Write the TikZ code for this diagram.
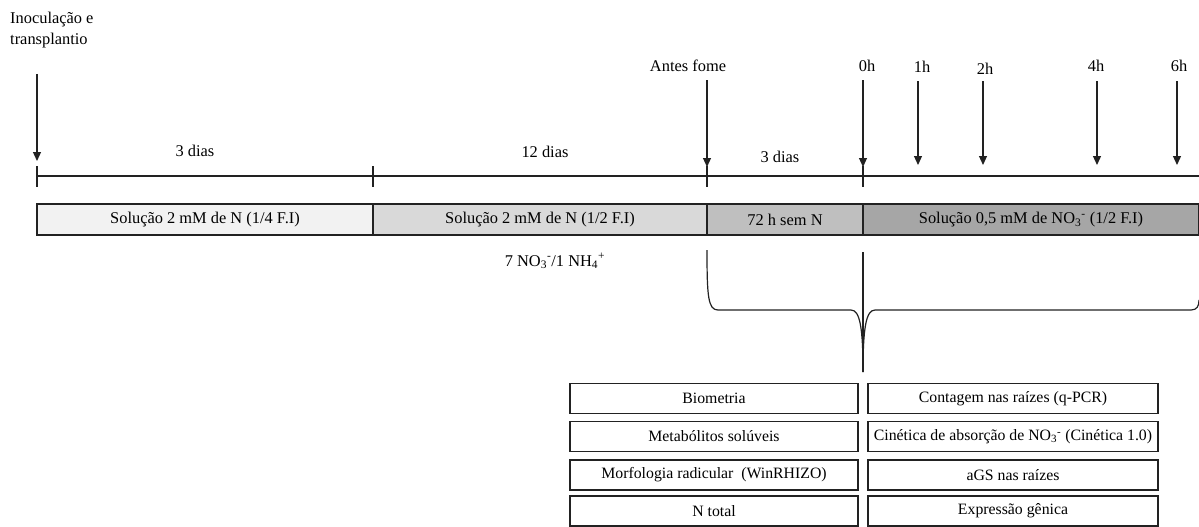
\documentclass[tikz,border=0pt]{standalone}
\usepackage{fontspec}
\setmainfont{Liberation Serif}
\usetikzlibrary{arrows.meta}
\definecolor{gA}{HTML}{F2F2F2}
\definecolor{gB}{HTML}{D9D9D9}
\definecolor{gC}{HTML}{BFBFBF}
\definecolor{gD}{HTML}{A6A6A6}
\definecolor{ink}{HTML}{222222}
\tikzset{
  lbl/.style={inner sep=0pt, font=\fontsize{16.4}{20}\selectfont},
  barbox/.style={draw=ink, line width=1.4pt, inner sep=0pt, minimum height=31pt, font=\fontsize{16.4}{20}\selectfont},
  resbox/.style={draw=ink, line width=1.4pt, inner sep=0pt, minimum height=30pt, font=\fontsize{15.8}{18}\selectfont},
  arr/.style={ink, line width=1.2pt, -{Triangle[width=8pt,length=9pt]}},
  tl/.style={ink, line width=1.2pt},
}
\begin{document}
\begin{tikzpicture}[x=1pt,y=-1pt]
\useasboundingbox (0,0) rectangle (1199,527);
% top-left label
\node[lbl, anchor=west, align=left] (inoc) at (10,30) {Inoculação e\\[1pt]transplantio};
% time labels
\node[lbl] (tAF) at (688,66) {Antes fome};
\node[lbl] (t0) at (867,66) {0h};
\node[lbl] (t1) at (922,67) {1h};
\node[lbl] (t2) at (985,69) {2h};
\node[lbl] (t4) at (1096,66) {4h};
\node[lbl] (t6) at (1179,66) {6h};
% durations
\node[lbl] (d1) at (195,151) {3 dias};
\node[lbl] (d2) at (545,152) {12 dias};
\node[lbl] (d3) at (780,157) {3 dias};
% arrows
\coordinate (a0s) at (37,74);  \coordinate (a0e) at (37,161);
\coordinate (aAs) at (707,80); \coordinate (aAe) at (707,167);
\coordinate (a0hs) at (863,80); \coordinate (a0he) at (863,167);
\coordinate (a1s) at (918,81); \coordinate (a1e) at (918,165);
\coordinate (a2s) at (983,81); \coordinate (a2e) at (983,165);
\coordinate (a4s) at (1097,81); \coordinate (a4e) at (1097,165);
\coordinate (a6s) at (1177,81); \coordinate (a6e) at (1177,165);
\draw[arr] (a0s) -- (a0e);
\draw[arr] (aAs) -- (aAe);
\draw[arr] (a0hs) -- (a0he);
\draw[arr] (a1s) -- (a1e);
\draw[arr] (a2s) -- (a2e);
\draw[arr] (a4s) -- (a4e);
\draw[arr] (a6s) -- (a6e);
% timeline
\coordinate (tlA) at (37,176); \coordinate (tlB) at (1199,176);
\draw[tl] (tlA) -- (tlB);
\foreach \x in {37,373,707,863} \draw[tl] (\x,166) -- (\x,187);
% bars
\node[barbox, fill=gA, minimum width=336pt] (b1) at (205,219.5) {Solução 2 mM de N (1/4 F.I)};
\node[barbox, fill=gB, minimum width=334pt] (b2) at (540,219.5) {Solução 2 mM de N (1/2 F.I)};
\node[barbox, fill=gC, minimum width=156pt] (b3) at (785,219.5) {72 h sem N};
\node[barbox, fill=gD, minimum width=336pt] (b4) at (1031,219.5) {Solução 0,5 mM de NO\textsubscript{3}\textsuperscript{-} (1/2 F.I)};
\node[lbl] (ratio) at (555,261) {7 NO\textsubscript{3}\textsuperscript{-}/1 NH\textsubscript{4}\textsuperscript{+}};
% brace
\coordinate (brL) at (707,250);
\coordinate (brT) at (863,372);
\coordinate (brR) at (1199,300);
\coordinate (vtop) at (863,252);
\draw[tl] (brL) .. controls (707,296) and (708,310) .. (718,310) -- (851,310)
  .. controls (860,310) and (863,328) .. (brT);
\draw[tl] (brT) .. controls (863,328) and (866,310) .. (875,310) -- (1191,310)
  .. controls (1197,310) and (1199,306) .. (brR);
\draw[tl] (vtop) -- (brT);
% result boxes
\node[resbox, minimum width=288pt] (r1) at (714,398.5) {Biometria};
\node[resbox, minimum width=288pt] (r2) at (714,436.5) {Metabólitos solúveis};
\node[resbox, minimum width=288pt] (r3) at (714,475) {Morfologia radicular\ \ (WinRHIZO)};
\node[resbox, minimum width=288pt] (r4) at (714,511) {N total};
\node[resbox, minimum width=290pt] (s1) at (1013,398.5) {Contagem nas raízes (q-PCR)};
\node[resbox, minimum width=290pt] (s2) at (1013,436.5) {Cinética de absorção de NO\textsubscript{3}\textsuperscript{-} (Cinética 1.0)};
\node[resbox, minimum width=290pt] (s3) at (1013,475) {aGS nas raízes};
\node[resbox, minimum width=290pt] (s4) at (1013,511) {Expressão gênica};
\end{tikzpicture}
\end{document}
